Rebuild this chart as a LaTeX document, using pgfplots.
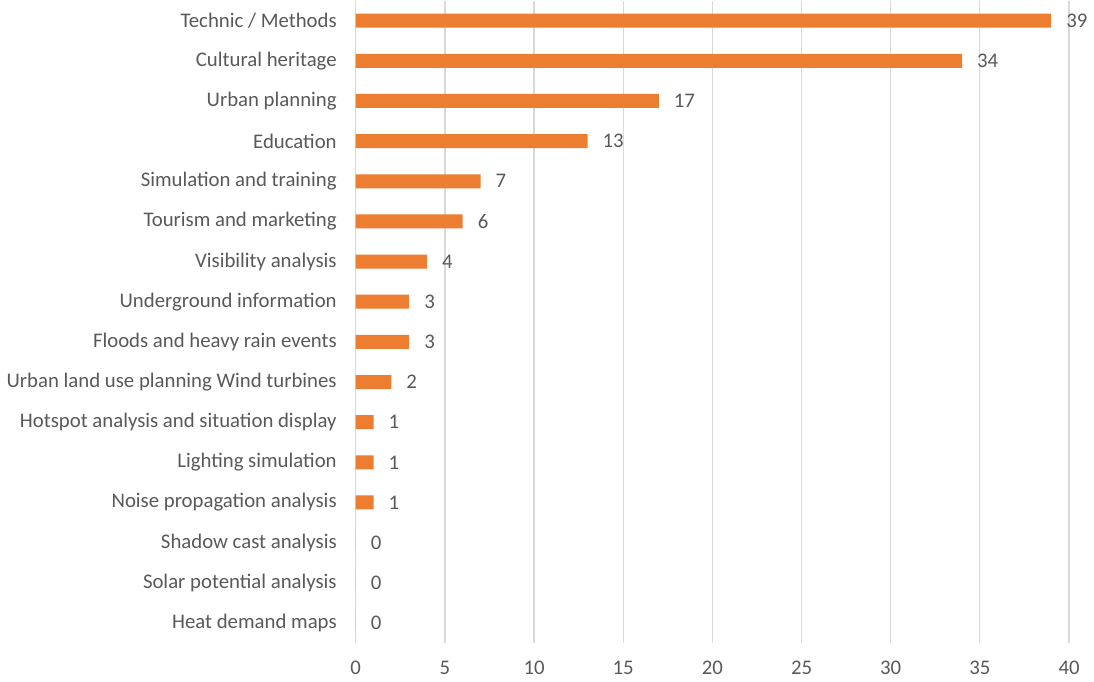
\documentclass[border=0pt]{standalone}
\usepackage{fontspec}
\setmainfont{Carlito}
\usepackage{pgfplots}
\pgfplotsset{compat=1.18}
\definecolor{barorange}{HTML}{ED7D31}
\definecolor{txtgray}{HTML}{595959}
\definecolor{gridgray}{HTML}{D9D9D9}
\begin{document}
\begin{tikzpicture}
\begin{axis}[
  scale only axis,
  width=357pt, height=321.5pt,
  xbar, bar width=7pt,
  xmin=0, xmax=40,
  ymin=-0.5, ymax=15.5,
  y dir=reverse,
  xtick={0,5,...,40},
  ytick={0,...,15},
  yticklabels={Technic / Methods, Cultural heritage, Urban planning, Education, Simulation and training, Tourism and marketing, Visibility analysis, Underground information, Floods and heavy rain events, Urban land use planning Wind turbines, Hotspot analysis and situation display, Lighting simulation, Noise propagation analysis, Shadow cast analysis, Solar potential analysis, Heat demand maps},
  major tick length=0pt,
  xmajorgrids, grid style={gridgray, line width=0.6pt},
  axis line style={draw=none},
  axis x line*=bottom, axis y line*=left,
  ticklabel style={font=\fontsize{10.4}{12}\selectfont, text=txtgray},
  /pgf/number format/assume math mode=true,
  yticklabel style={xshift=-6pt},
  xticklabel style={yshift=-5.5pt},
  nodes near coords,
  every node near coord/.append style={anchor=west, xshift=4pt, font=\fontsize{10.4}{12}\selectfont, text=txtgray},
  clip=false,
]
\draw[gridgray, line width=0.6pt] (axis cs:0,-0.5) -- (axis cs:0,15.5);
\addplot[fill=barorange, draw=none] coordinates {
(39,0) (34,1) (17,2) (13,3) (7,4) (6,5) (4,6) (3,7) (3,8) (2,9) (1,10) (1,11) (1,12) (0,13) (0,14) (0,15)
};
\end{axis}
\end{tikzpicture}
\end{document}
